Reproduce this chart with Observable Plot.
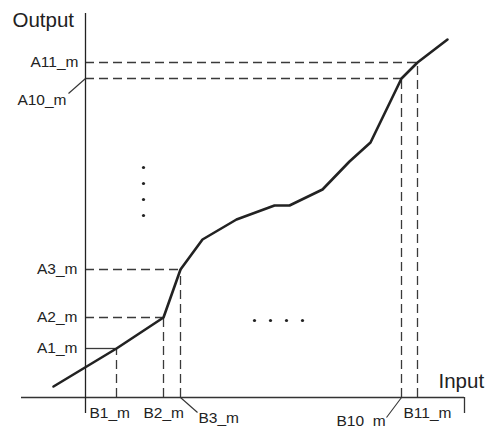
<!DOCTYPE html>
<html>
<head>
<meta charset="utf-8">
<script src="https://cdn.jsdelivr.net/npm/d3@7"></script>
<script src="https://cdn.jsdelivr.net/npm/@observablehq/plot@0.6"></script>
<style>
  html, body { margin: 0; padding: 0; background: #fff; }
  svg { display: block; }
</style>
</head>
<body>
<div id="chart"></div>
<script>
// Curve (Input -> Output), origin at axes intersection
const curveInput  = [-32, 31, 78, 95, 117, 151, 189, 204, 237, 264, 285, 316, 332, 362];
const curveOutput = [ 11, 49, 80, 128, 158, 178, 192, 192, 208, 236, 255, 319, 335, 358];

// Marked breakpoints
const bNames = ["B1_m", "B2_m", "B3_m", "B10_m", "B11_m"];
const bValues = [31, 78, 95, 316, 332];
const aNames = ["A1_m", "A2_m", "A3_m", "A10_m", "A11_m"];
const aValues = [49, 80, 128, 319, 335];
const hSolid = [true, false, false, false, false];

// Label placements
const aLabelX = [-8, -8, -8, -19, -7];
const aLabelY = [49, 80, 128, 297, 335];
const bLabelX = [4, 58, 113, 251, 318];
const bLabelY = [-16, -16, -21, -24, -16];

// Ellipsis dots
const vDotsX = [58, 58, 58, 58];
const vDotsY = [230, 214, 198, 182];
const hDotsX = [169, 185, 201, 217];
const hDotsY = [77, 77, 77, 77];

const curve = curveInput.map((x, i) => ({x, y: curveOutput[i]}));
const guides = bValues.map((b, i) => ({b, a: aValues[i], solid: hSolid[i]}));
const aLabels = aNames.map((t, i) => ({t, x: aLabelX[i], y: aLabelY[i]}));
const bLabels = bNames.map((t, i) => ({t, x: bLabelX[i], y: bLabelY[i]}));
const dots = vDotsX.map((x, i) => ({x, y: vDotsY[i]}))
  .concat(hDotsX.map((x, i) => ({x, y: hDotsY[i]})));

const leaders = [
  {x1: -17, y1: 304, x2: 0, y2: 319},   // A10_m
  {x1: 95, y1: 0, x2: 112, y2: -15},    // B3_m
  {x1: 301, y1: -20, x2: 316, y2: 0}    // B10_m
];

const font = "'Liberation Sans', Arial, Helvetica, sans-serif";
const chart = Plot.plot({
  width: 486,
  height: 428,
  margin: 0,
  x: {domain: [-85, 401], axis: null},
  y: {domain: [-31, 397], axis: null},
  style: {fontFamily: font, background: "#fff", overflow: "visible"},
  marks: [
    // horizontal guides
    Plot.ruleY(guides.filter(d => !d.solid), {y: "a", x1: 0, x2: "b", stroke: "#3a3a3a", strokeWidth: 1.3, strokeDasharray: "9,5"}),
    Plot.ruleY(guides.filter(d => d.solid), {y: "a", x1: 0, x2: "b", stroke: "#3a3a3a", strokeWidth: 1.3}),
    // vertical guides
    Plot.ruleX(guides, {x: "b", y1: 0, y2: "a", stroke: "#3a3a3a", strokeWidth: 1.3, strokeDasharray: "9,5"}),
    // axes
    Plot.ruleY([0], {x1: -64, x2: 379, stroke: "#333", strokeWidth: 1.3}),
    Plot.ruleX([0], {y1: -16, y2: 384, stroke: "#222", strokeWidth: 1.3}),
    Plot.ruleX([379], {y1: -16, y2: 0, stroke: "#333", strokeWidth: 1.3}),
    // leaders
    Plot.link(leaders, {x1: "x1", y1: "y1", x2: "x2", y2: "y2", stroke: "#333", strokeWidth: 1.1}),
    // curve
    Plot.line(curve, {x: "x", y: "y", stroke: "#222", strokeWidth: 2.6}),
    // dots
    Plot.dot(dots, {x: "x", y: "y", r: 1.6, fill: "#222", stroke: "none"}),
    // labels
    Plot.text(aLabels, {x: "x", y: "y", text: "t", textAnchor: "end", fontSize: 15.5, fill: "#222"}),
    Plot.text(bLabels, {x: "x", y: "y", text: "t", textAnchor: "start", fontSize: 15.5, fill: "#222"}),
    Plot.text(["Output"], {x: -73, y: 377, text: d => d, textAnchor: "start", fontSize: 20.5, fill: "#222"}),
    Plot.text(["Input"], {x: 353, y: 16, text: d => d, textAnchor: "start", fontSize: 20.5, fill: "#222"})
  ]
});
document.getElementById("chart").appendChild(chart);
</script>
</body>
</html>
